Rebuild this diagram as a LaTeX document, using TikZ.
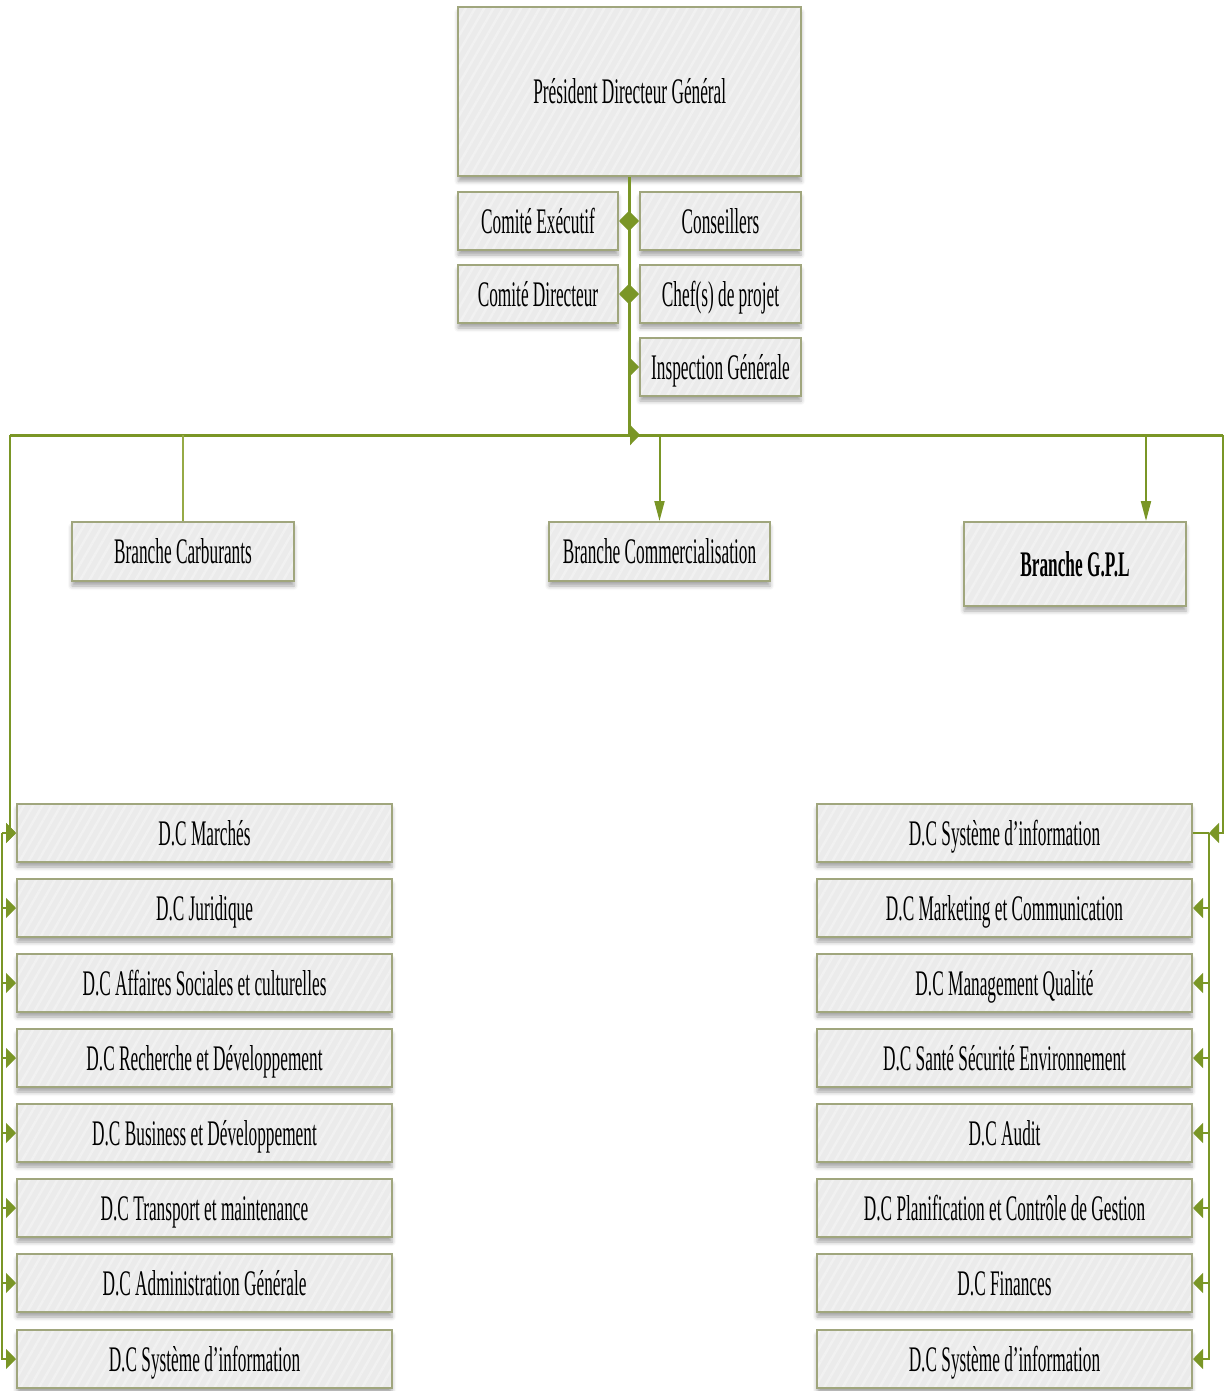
\documentclass[tikz,border=0pt]{standalone}
\usepackage{fontspec}
\newfontfamily\cond[FakeStretch=0.48]{Liberation Serif}
\usetikzlibrary{arrows.meta,patterns.meta,shadows.blur}

\definecolor{linkolive}{RGB}{122,150,38}
\definecolor{linklight}{RGB}{150,170,70}
\definecolor{boxborder}{RGB}{160,166,125}
\definecolor{boxfill}{RGB}{235,235,235}
\definecolor{boxstripe}{RGB}{241,241,241}

\begin{document}
\begin{tikzpicture}[x=1pt,y=-1pt,
  unit/.style={draw=boxborder, line width=2pt,
    blur shadow={shadow xshift=0pt, shadow yshift=-5pt, shadow blur radius=4pt, shadow opacity=35},
    preaction={fill=boxfill},
    pattern={Lines[angle=60,distance=8pt,line width=2.5pt]}, pattern color=boxstripe,
    inner sep=0pt, anchor=north west, text height=24pt, text depth=0pt,
    font=\cond\fontsize{36}{40}\selectfont},
  link/.style={draw=linkolive, line width=2pt},
  bus/.style={draw=linkolive, line width=3pt},
  feeder/.style={draw=linklight, line width=1.6pt},
  hr/.style={-{Triangle[length=10pt,width=20pt]}},
  vd/.style={-{Triangle[length=20pt,width=10pt]}}
]
\useasboundingbox (0,0) rectangle (1225,1391);

% top management
\node[unit, minimum width=343pt, minimum height=169pt] (pdg) at (457,6) {Président Directeur Général};
\node[unit, minimum width=160pt, minimum height=58pt] (ce) at (457,191) {Comité Exécutif};
\node[unit, minimum width=161pt, minimum height=58pt] (co) at (639,191) {Conseillers};
\node[unit, minimum width=160pt, minimum height=58pt] (cd) at (457,264) {Comité Directeur};
\node[unit, minimum width=161pt, minimum height=58pt] (cp) at (639,264) {Chef(s) de projet};
\node[unit, minimum width=161pt, minimum height=58pt] (ig) at (639,337) {Inspection Générale};

% branches
\node[unit, minimum width=222pt, minimum height=59pt] (bc) at (71,521) {Branche Carburants};
\node[unit, minimum width=221pt, minimum height=59pt] (bcom) at (548,521) {Branche Commercialisation};
\node[unit, minimum width=222pt, minimum height=84pt, font=\cond\bfseries\fontsize{36}{40}\selectfont] (gpl) at (963,521) {Branche G.P.L};

% central directorates
\foreach \i/\y/\txt in {1/803/D.C Marchés, 2/878/D.C Juridique, 3/953/D.C Affaires Sociales et culturelles,
  4/1028/D.C Recherche et Développement, 5/1103/D.C Business et Développement,
  6/1178/D.C Transport et maintenance, 7/1253/D.C Administration Générale, 8/1329/D.C Système d’information}
  \node[unit, minimum width=375pt, minimum height=58pt] (l\i) at (16,\y) {\txt};
\foreach \i/\y/\txt in {1/803/D.C Système d’information, 2/878/D.C Marketing et Communication, 3/953/D.C Management Qualité,
  4/1028/D.C Santé Sécurité Environnement, 5/1103/D.C Audit,
  6/1178/D.C Planification et Contrôle de Gestion, 7/1253/D.C Finances, 8/1329/D.C Système d’information}
  \node[unit, minimum width=375pt, minimum height=58pt] (r\i) at (816,\y) {\txt};

% trunk from the PDG
\coordinate (hub) at (640,435);
\draw[bus, hr] (pdg.south) |- (hub);
\draw[link, {Triangle[length=10pt,width=20pt]}-{Triangle[length=10pt,width=20pt]}] (ce.east) -- (co.west);
\draw[link, {Triangle[length=10pt,width=20pt]}-{Triangle[length=10pt,width=20pt]}] (cd.east) -- (cp.west);
\draw[link, hr] (ig.west -| pdg.south) -- (ig.west);

% main bus
\coordinate (busL) at (10,435);
\coordinate (busR) at (1223,435);
\draw[bus] (busL) -- (busR);
\draw[feeder] (bc.north |- busL) -- (bc.north);
\draw[link, vd] (bcom.north |- busL) -- (bcom.north);
\coordinate (gpltop) at (1146,521);
\draw[link, vd] (gpltop |- busL) -- (gpltop);

% left column
\coordinate (lspine) at (2,0);
\draw[link, hr] (busL) |- (l1.west);
\foreach \i in {1,...,8}
  \draw[link, hr] (lspine |- l1.west) |- (l\i.west);

% right column
\coordinate (rhub) at (1209,833);
\draw[link, hr] (busR) |- (rhub);
\draw[link] (r1.east) -- (rhub);
\foreach \i in {2,...,8}
  \draw[link, hr] (rhub) |- (r\i.east);
\end{tikzpicture}
\end{document}
